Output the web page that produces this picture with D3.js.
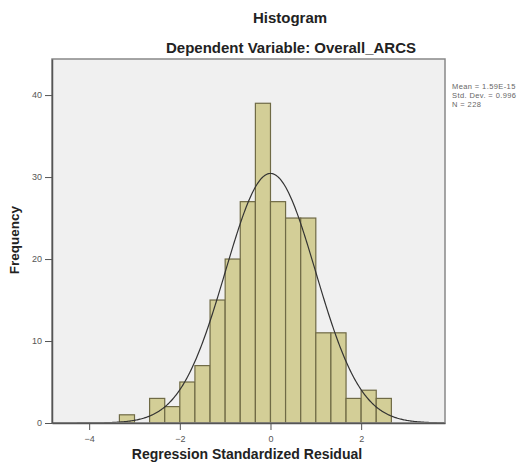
<!DOCTYPE html>
<html>
<head>
<meta charset="utf-8">
<script src="https://cdn.jsdelivr.net/npm/d3@7"></script>
<style>
  body { margin: 0; background: #fff; }
  text { font-family: "Liberation Sans", Arial, sans-serif; }
</style>
</head>
<body>
<div id="chart"></div>
<script>
// bin lower edges (width 1/3) and frequencies
const binStarts = [-3.333, -3.0, -2.667, -2.333, -2.0, -1.667, -1.333, -1.0, -0.667, -0.333,
                   0.0, 0.333, 0.667, 1.0, 1.333, 1.667, 2.0, 2.333];
const binEnds   = [-3.0, -2.667, -2.333, -2.0, -1.667, -1.333, -1.0, -0.667, -0.333, 0.0,
                   0.333, 0.667, 1.0, 1.333, 1.667, 2.0, 2.333, 2.667];
const counts    = [1, 0, 3, 2, 5, 7, 15, 20, 27, 39, 27, 25, 25, 11, 11, 3, 4, 3];
const xTicks = [-4, -2, 0, 2];
const yTicks = [0, 10, 20, 30, 40];
const stats = { mean: 0, sd: 0.996, n: 228 };
const statLines = ["Mean = 1.59E-15", "Std. Dev. = 0.996", "N = 228"];

const W = 532, H = 464;
const frame = { left: 52, right: 445, top: 59, bottom: 423 };

const svg = d3.select("#chart").append("svg")
    .attr("width", W)
    .attr("height", H);

const x = d3.scaleLinear().domain([-4.82, 3.85]).range([frame.left, frame.right]);
const y = d3.scaleLinear().domain([0, 44.4]).range([frame.bottom, frame.top]);

// plot background
svg.append("rect")
    .attr("x", frame.left).attr("y", frame.top)
    .attr("width", frame.right - frame.left)
    .attr("height", frame.bottom - frame.top)
    .style("fill", "#f0f0f0");

// bars
svg.append("g").selectAll("rect")
    .data(counts.map((c, i) => ({ x0: binStarts[i], x1: binEnds[i], c: c })).filter(d => d.c > 0))
    .enter().append("rect")
    .attr("x", d => x(d.x0))
    .attr("y", d => y(d.c))
    .attr("width", d => x(d.x1) - x(d.x0))
    .attr("height", d => y(0) - y(d.c))
    .style("fill", "#d3ce97")
    .style("stroke", "#6f6a45")
    .style("stroke-width", 1.2);

// normal curve
const binW = 1 / 3;
const pdf = v => stats.n * binW / (stats.sd * Math.sqrt(2 * Math.PI)) *
    Math.exp(-0.5 * Math.pow((v - stats.mean) / stats.sd, 2));
const xs = d3.range(-4.82, 3.85, 0.02);
svg.append("path")
    .datum(xs)
    .attr("d", d3.line().x(d => x(d)).y(d => y(pdf(d))))
    .style("fill", "none")
    .style("stroke", "#333")
    .style("stroke-width", 1.2);

// frame
svg.append("rect")
    .attr("x", frame.left).attr("y", frame.top)
    .attr("width", frame.right - frame.left)
    .attr("height", frame.bottom - frame.top)
    .style("fill", "none")
    .style("stroke", "#888")
    .style("stroke-width", 1.5);

// axes
const xAxis = svg.append("g")
    .attr("transform", "translate(0," + frame.bottom + ")")
    .call(d3.axisBottom(x).tickValues(xTicks).tickSize(7).tickSizeOuter(0).tickFormat(d3.format("d")));
const yAxis = svg.append("g")
    .attr("transform", "translate(" + frame.left + ",0)")
    .call(d3.axisLeft(y).tickValues(yTicks).tickSize(7).tickSizeOuter(0));
[xAxis, yAxis].forEach(a => {
    a.select(".domain").style("stroke", "#555").style("stroke-width", 1.5);
    a.selectAll(".tick line").style("stroke", "#555");
    a.selectAll(".tick text").style("fill", "#555").style("font-size", "9px")
        .style("font-family", "Liberation Sans, Arial, sans-serif");
});
xAxis.selectAll(".tick text").attr("dy", "1em");

// titles
svg.append("text")
    .attr("x", 290).attr("y", 23)
    .attr("text-anchor", "middle")
    .style("font-size", "15px").style("font-weight", "bold").style("fill", "#222")
    .text("Histogram");
svg.append("text")
    .attr("x", 291).attr("y", 53)
    .attr("text-anchor", "middle")
    .style("font-size", "15px").style("font-weight", "bold").style("fill", "#222")
    .text("Dependent Variable: Overall_ARCS");
svg.append("text")
    .attr("transform", "translate(19,240) rotate(-90)")
    .attr("text-anchor", "middle")
    .style("font-size", "13.5px").style("font-weight", "bold").style("fill", "#222")
    .text("Frequency");
svg.append("text")
    .attr("x", 247).attr("y", 459)
    .attr("text-anchor", "middle")
    .style("font-size", "14px").style("font-weight", "bold").style("fill", "#222")
    .text("Regression Standardized Residual");

// stats box text
svg.append("g").selectAll("text")
    .data(statLines)
    .enter().append("text")
    .attr("x", 452)
    .attr("y", (d, i) => 89 + i * 9)
    .style("font-size", "7.5px").style("fill", "#666")
    .style("letter-spacing", "0.4px")
    .text(d => d);
</script>
</body>
</html>
